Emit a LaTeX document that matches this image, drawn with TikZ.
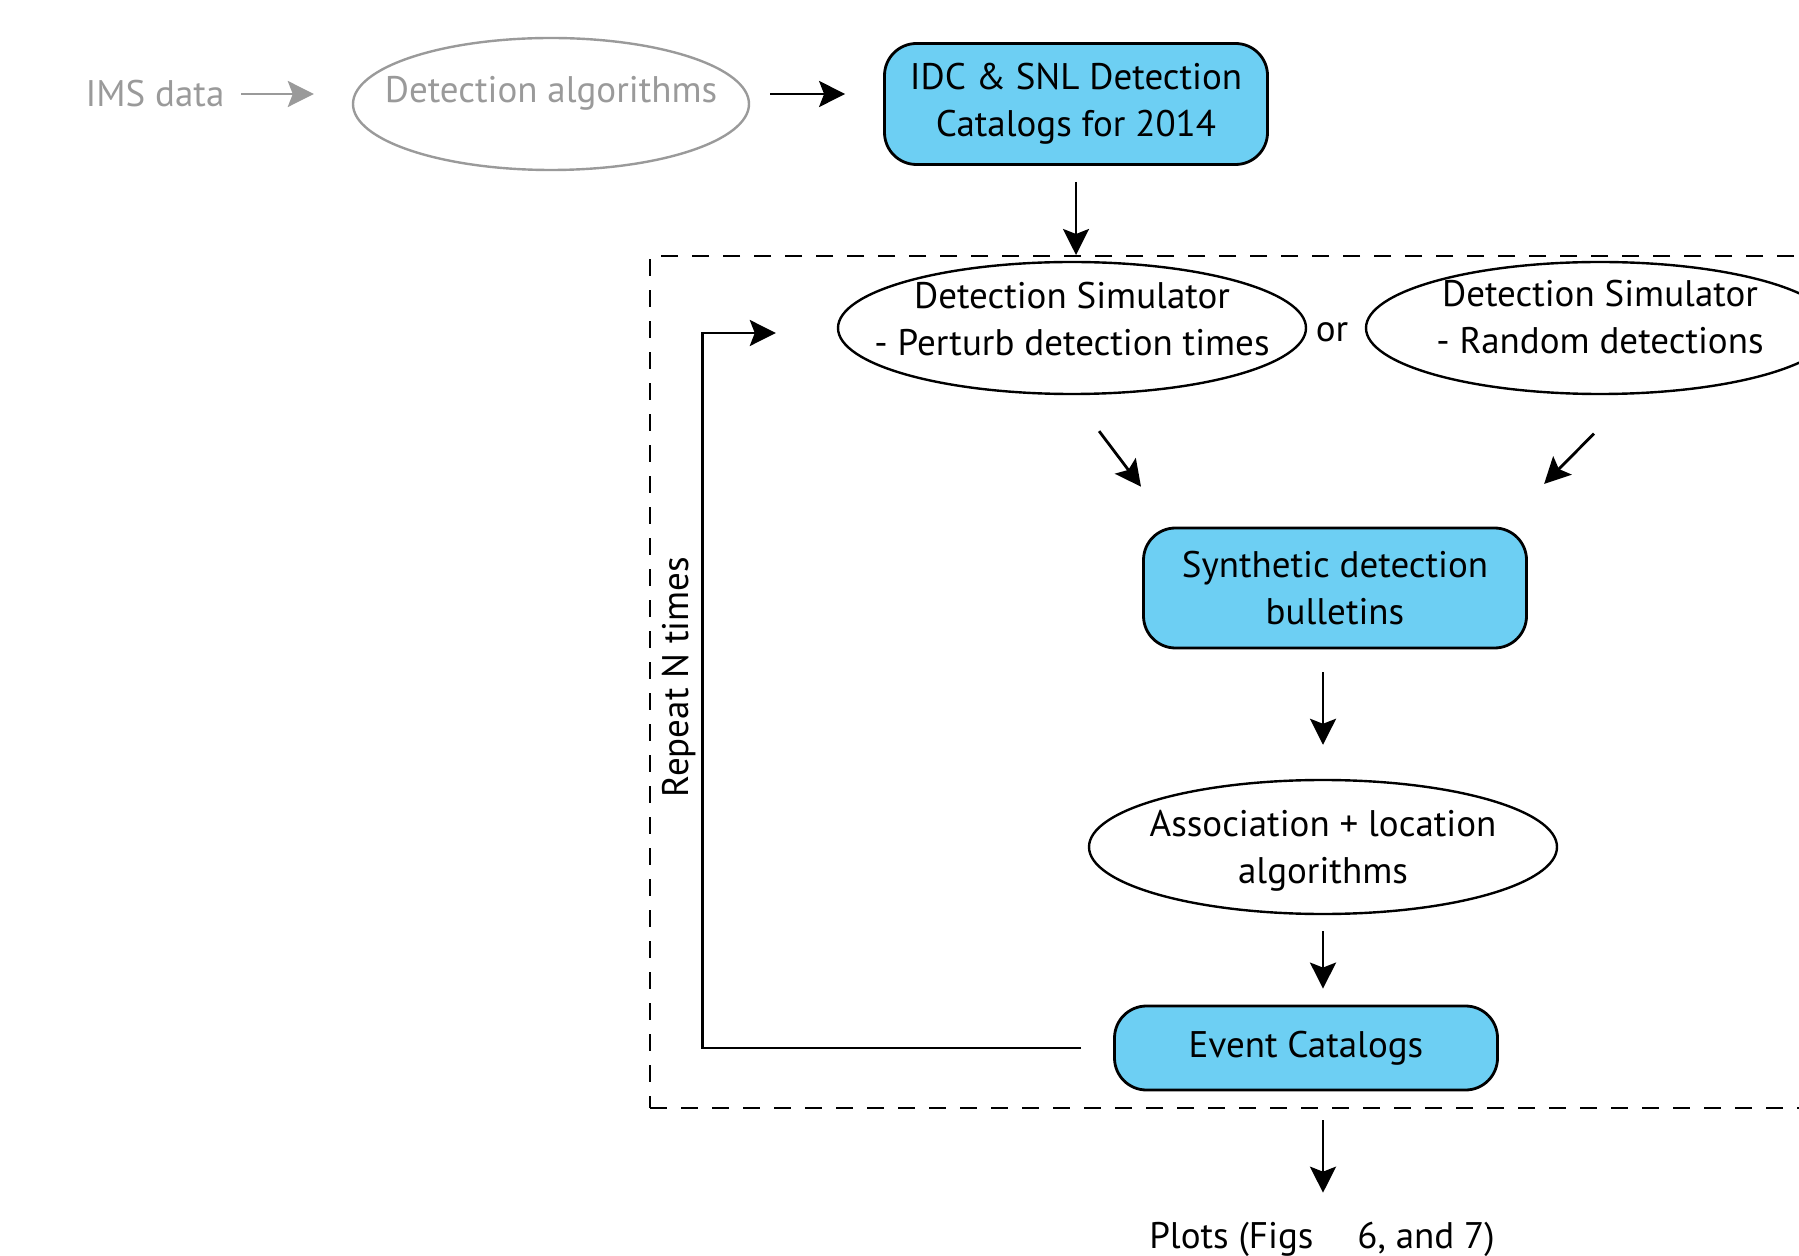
\documentclass[tikz,border=0pt]{standalone}
\usepackage{fontspec}
\setmainfont{PT Sans}
\usepackage{tikz}
\usetikzlibrary{arrows.meta,positioning,calc,shapes.geometric}
\definecolor{SimBlue}{HTML}{6DCFF3}
\definecolor{SimGray}{HTML}{9A9A9A}

\begin{document}
\begin{tikzpicture}[x=0.5pt, y=-0.5pt,
    every node/.style={font=\fontsize{18.5}{23.5}\selectfont, align=center},
    blkbox/.style={draw, line width=1.4pt, fill=SimBlue, rounded corners=16pt, minimum width=191.5pt, inner sep=2pt},
    simell/.style={draw, line width=1.2pt, ellipse, minimum width=234pt, minimum height=66pt, inner xsep=-25pt, inner ysep=-8pt},
    arr/.style={line width=1.4pt, -{Stealth[length=13pt, width=13pt, inset=2.5pt]}}]
    \useasboundingbox (0,0) rectangle (1799,1256);

    % input chain
    \node[text=SimGray] (ims) at (155,94) {IMS data};
    \node[simell, draw=SimGray, text=SimGray, minimum width=198pt, inner xsep=-30pt, text depth=15pt] (detalg) at (551,104) {Detection algorithms};
    \node[blkbox, minimum height=60.5pt] (idc) at (1076,104) {IDC \& SNL Detection\\Catalogs for 2014};

    % repeated loop
    \node[draw, line width=1.2pt, dash pattern=on 8.5pt off 7pt, minimum width=600pt, minimum height=426pt, anchor=north west, inner sep=0pt] (loop) at (649,255) {};
    \node[simell, text depth=9pt] (simA) at (1072,328) {Detection Simulator\\- Perturb detection times};
    \node (orlbl) at (1332,332) {or};
    \node[simell, text depth=11pt] (simB) at (1600,328) {Detection Simulator\\- Random detections};
    \node[blkbox, minimum height=60pt] (synth) at (1335,588) {Synthetic detection\\bulletins};
    \node[simell, minimum height=67pt, text depth=0pt] (assoc) at (1323,847) {Association + location\\algorithms};
    \node[blkbox, minimum height=42pt] (events) at (1306,1048) {Event Catalogs};
    \node[rotate=90] (repeat) at (679,677) {Repeat N times};
    \node (plots) at (1322,1239) {Plots (Figs\hspace{22pt}6, and 7)};

    \draw[arr, SimGray, shorten <=5pt, shorten >=19pt] (ims.east) -- (ims.east -| detalg.west);
    \draw[arr, shorten <=10pt, shorten >=19pt] (detalg.east |- ims) -- (idc.west |- ims);
    \draw[arr, shorten <=8pt] (idc.south) -- (idc.south |- loop.north);
    \draw[arr, shorten <=22.5pt, shorten >=25pt] (simA.south) -- ([xshift=14.5pt]synth.north west);
    \draw[arr, shorten <=27pt, shorten >=30pt] ([xshift=16pt]simB.south) -- ([xshift=-13pt]synth.north east);
    \draw[arr, shorten <=11.5pt, shorten >=17pt] (synth.south -| assoc) -- (assoc.north);
    \draw[arr, shorten <=8pt, shorten >=8pt] (assoc.south) -- (assoc.south |- events.north);
    \draw[arr, shorten <=14.5pt, shorten >=11pt] (assoc.south |- events.south) -- (assoc.south |- plots.north);
    \draw[arr, shorten >=30.5pt] ([xshift=-16pt]events.west) -- ++(-379,0) |- ([yshift=-2.5pt]simA.west);
\end{tikzpicture}
\end{document}
